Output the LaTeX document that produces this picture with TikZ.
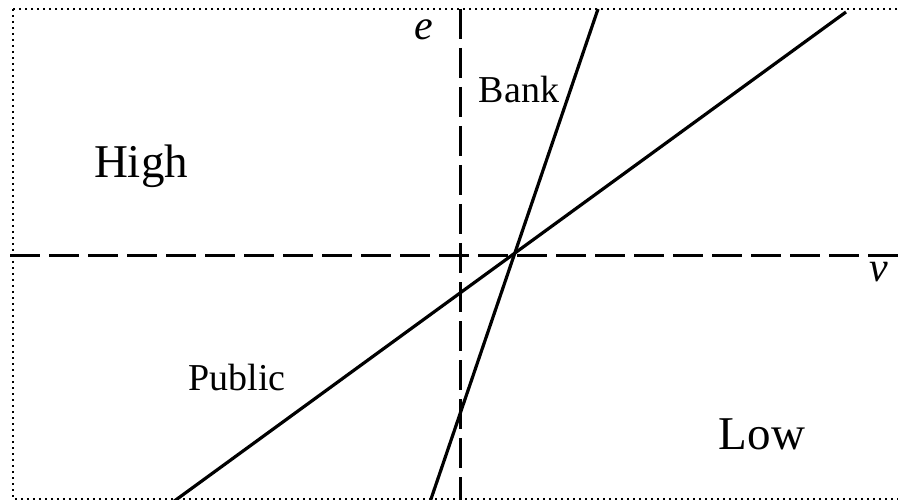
\documentclass[tikz,border=0pt]{standalone}
\usepackage{fontspec}
\setmainfont{Liberation Serif}
\begin{document}
\begin{tikzpicture}[
    x=1pt, y=-1pt,
    frame/.style={draw, line width=2.4pt, dash pattern=on 2.4pt off 3.6pt},
    axis/.style={draw, line width=3pt, dash pattern=on 30pt off 9pt},
    curve/.style={draw, line width=3.2pt},
    region/.style={font=\fontsize{47}{50}\selectfont},
    tag/.style={font=\fontsize{38}{40}\selectfont},
    var/.style={font=\fontsize{42}{44}\selectfont\itshape}
]
\useasboundingbox (0,0) rectangle (898,500);
\draw[frame] (13,9) rectangle (904,499);

% axes
\coordinate (vtop) at (460,9);
\coordinate (vbot) at (460,502);
\coordinate (hleft) at (10,256);
\coordinate (hright) at (900,256);
\draw[axis] (vtop) -- (vbot);
\draw[axis] (hleft) -- (hright);

% schedules
\coordinate (banktop) at (598,9);
\coordinate (bankbot) at (430,502);
\coordinate (pubtop) at (846,12);
\coordinate (pubbot) at (173,502);
\draw[curve] (bankbot) -- (banktop);
\draw[curve] (pubbot) -- (pubtop);

\node[var] (e) at (424,30) {e};
\node[var] (v) at (879,272) {v};
\node[tag] (bank) at (519,90) {Bank};
\node[tag] (public) at (237,378) {Public};
\node[region] (high) at (141,166) {High};
\node[region] (low) at (762,434) {Low};
\end{tikzpicture}
\end{document}
